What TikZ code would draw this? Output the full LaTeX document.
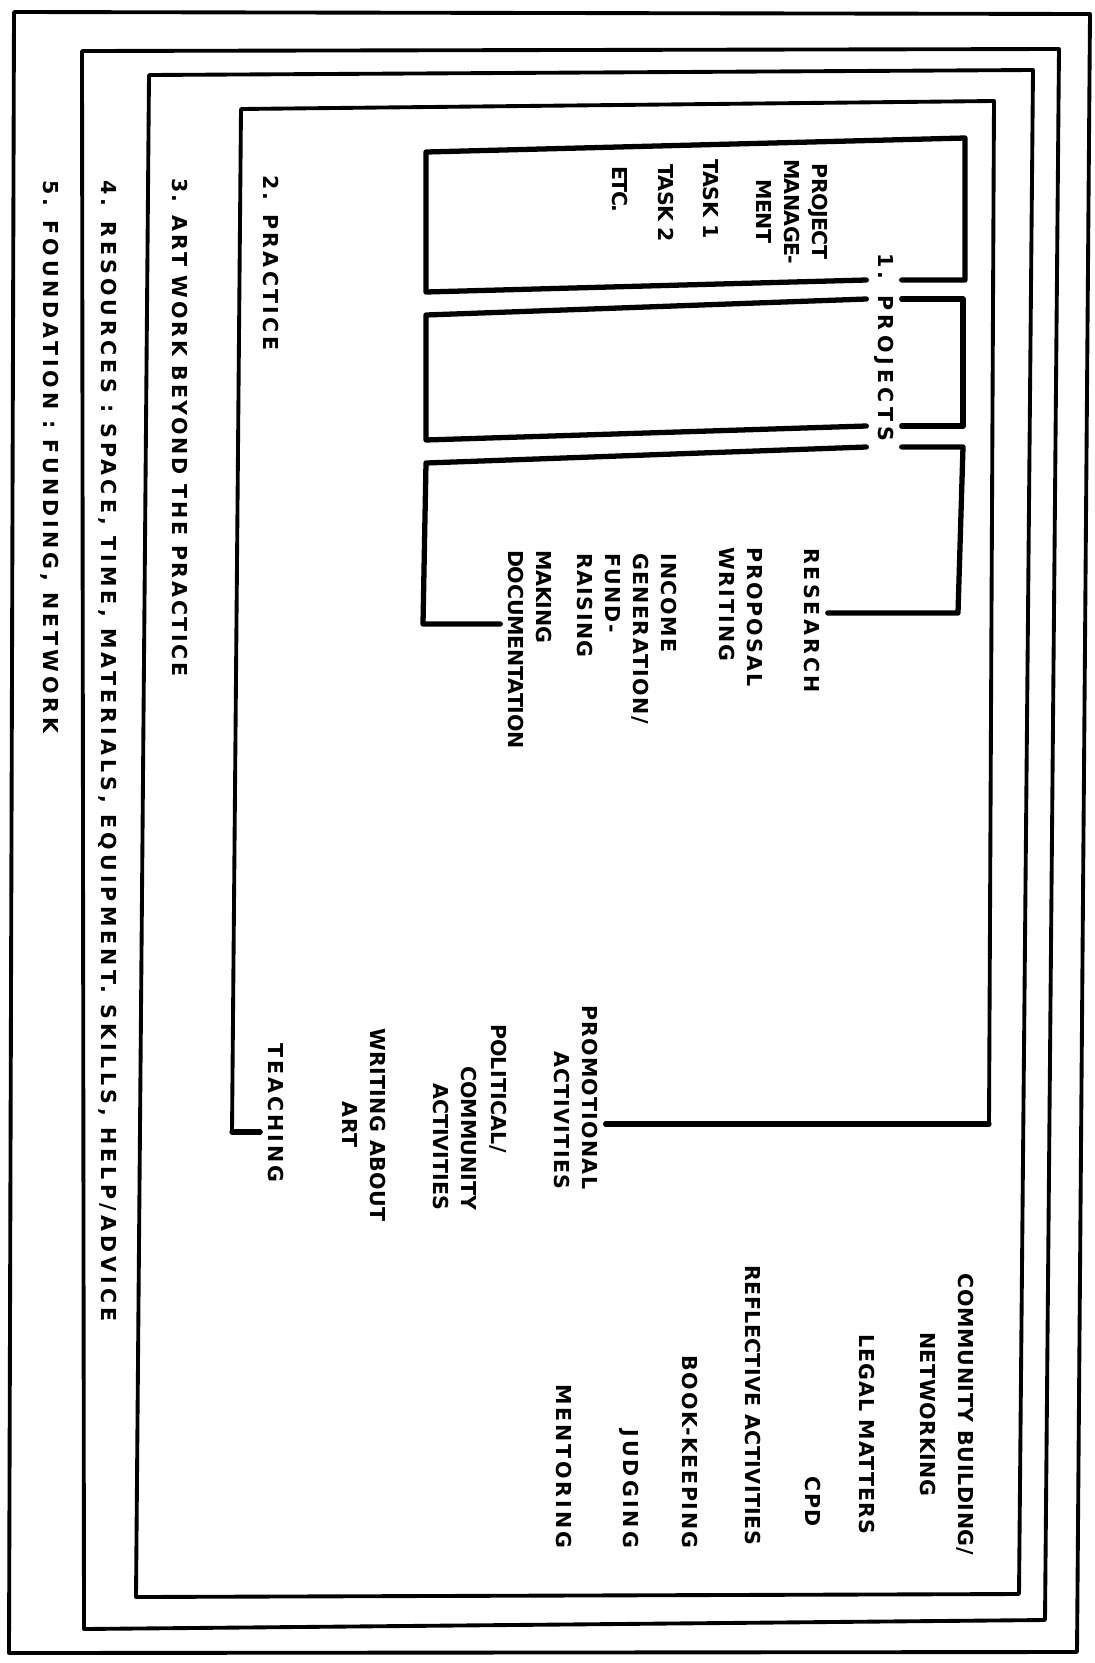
\documentclass[tikz,border=0pt]{standalone}
\usepackage{fontspec}
\newfontfamily\hand{DejaVu Sans}
\usetikzlibrary{calc,positioning}
\tikzset{lsp/.style={font={\hand\bfseries\fontsize{5.85pt}{7.9pt}\selectfont\addfontfeature{LetterSpace=#1}}}}

\begin{document}
\begin{tikzpicture}[x=0.01cm,y=-0.01cm]
  \useasboundingbox (0,0) rectangle (1095,1663);

  \tikzstyle{ringline} = [line width=1.1pt, line cap=round, line join=round]
  \tikzstyle{boxline} = [line width=1.5pt, line cap=round, line join=round]
  \tikzstyle{txt} = [rotate=-90, anchor=west, inner sep=0pt, outer sep=0.8mm, align=left]

  \node[txt, lsp=22] (p1) at (884,245) {1. PROJECTS};
  \node[txt, lsp=-3, align=center] (pm) at (792,151) {PROJECT\\MANAGE-\\MENT};
  \node[txt, lsp=-1] (tk1) at (711,151) {TASK 1};
  \node[txt, lsp=-3] (tk2) at (666,156) {TASK 2};
  \node[txt, lsp=-7] (etc) at (620,158) {ETC.};

  \node[txt, lsp=15] (rs) at (812,540) {RESEARCH};
  \node[txt, lsp=10] (pw) at (741,539) {PROPOSAL\\WRITING};
  \node[txt, lsp=7] (ig) at (627,545) {INCOME\\GENERATION/\\FUND-\\RAISING};
  \node[txt, lsp=-1] (mk) at (530,542) {MAKING\\DOCUMENTATION};

  \node[txt, lsp=6, align=right] (pr) at (576,997) {PROMOTIONAL\\ACTIVITIES};
  \node[txt, lsp=1] (pol) at (498,1016) {POLITICAL/};
  \node[txt, lsp=0, align=right] (com) at (455,1058) {COMMUNITY\\ACTIVITIES};
  \node[txt, lsp=2, align=center] (wa) at (364,1020) {WRITING ABOUT\\ART};
  \node[txt, lsp=15] (tc) at (276,1035) {TEACHING};

  \node[txt, lsp=3, anchor=east, align=center] (cb) at (947,1563) {COMMUNITY BUILDING/\\[3pt]NETWORKING};
  \node[txt, lsp=5, anchor=east] (lg) at (867,1542) {LEGAL MATTERS};
  \node[txt, lsp=8, anchor=east] (cpd) at (813,1535) {CPD};
  \node[txt, lsp=2, anchor=east] (rf) at (753,1553) {REFLECTIVE ACTIVITIES};
  \node[txt, lsp=8, anchor=east] (bk) at (690,1556) {BOOK-KEEPING};
  \node[txt, lsp=15, anchor=east] (jd) at (629,1556) {JUDGING};
  \node[txt, lsp=14, anchor=east] (mt) at (564,1556) {MENTORING};

  \node[txt, lsp=16] (l2) at (271,167) {2. PRACTICE};
  \node[txt, lsp=13] (l3) at (180,170) {3. ART WORK BEYOND THE PRACTICE};
  \node[txt, lsp=20] (l4) at (108,172) {4. RESOURCES : SPACE, TIME, MATERIALS, EQUIPMENT. SKILLS, HELP/ADVICE};
  \node[txt, lsp=19] (l5) at (50,172) {5. FOUNDATION : FUNDING, NETWORK};

  \coordinate (b1a) at (965,280);
  \coordinate (b1b) at (965,138);
  \coordinate (b1c) at (426,152);
  \coordinate (b1d) at (426,292);
  \coordinate (b2a) at (963,299);
  \coordinate (b2b) at (963,426);
  \coordinate (b2c) at (426,315);
  \coordinate (b2d) at (426,440);
  \coordinate (b3a) at (963,447);
  \coordinate (b3b) at (958,613);
  \coordinate (b3c) at (426,463);
  \coordinate (b3d) at (423,624);
  \coordinate (f2a) at (232,1132);
  \coordinate (f2b) at (241,109);
  \coordinate (f2c) at (994,101);
  \coordinate (f2d) at (989,1124);

  \draw[ringline] (14,12) -- (1090,14) -- (1077,1652) -- (9,1653) -- cycle;
  \draw[ringline] (82,51) -- (1059,49) -- (1045,1620) -- (84,1629) -- cycle;
  \draw[ringline] (149,75) -- (1033,70) -- (1019,1594) -- (136,1597) -- cycle;
  \draw[ringline] (f2a) -- (f2b) -- (f2c) -- (f2d);
  \draw[boxline] (f2a -| tc.south) -- (f2a);
  \draw[boxline] (f2d) -- (f2d -| pr.north);

  \draw[boxline] (p1.north |- b1a) -- (b1a) -- (b1b) -- (b1c) -- (b1d) -- (p1.south |- b1a);
  \draw[boxline] (p1.south |- b2a) -- (b2c) -- (b2d) -- (p1.south |- b2b);
  \draw[boxline] (p1.north |- b2a) -- (b2a) -- (b2b) -- (p1.north |- b2b);
  \draw[boxline] (p1.south |- b3a) -- (b3c) -- (b3d) -- (b3d -| mk.south);
  \draw[boxline] (p1.north |- b3a) -- (b3a) -- (b3b) -- (b3b -| rs.north);
\end{tikzpicture}
\end{document}
